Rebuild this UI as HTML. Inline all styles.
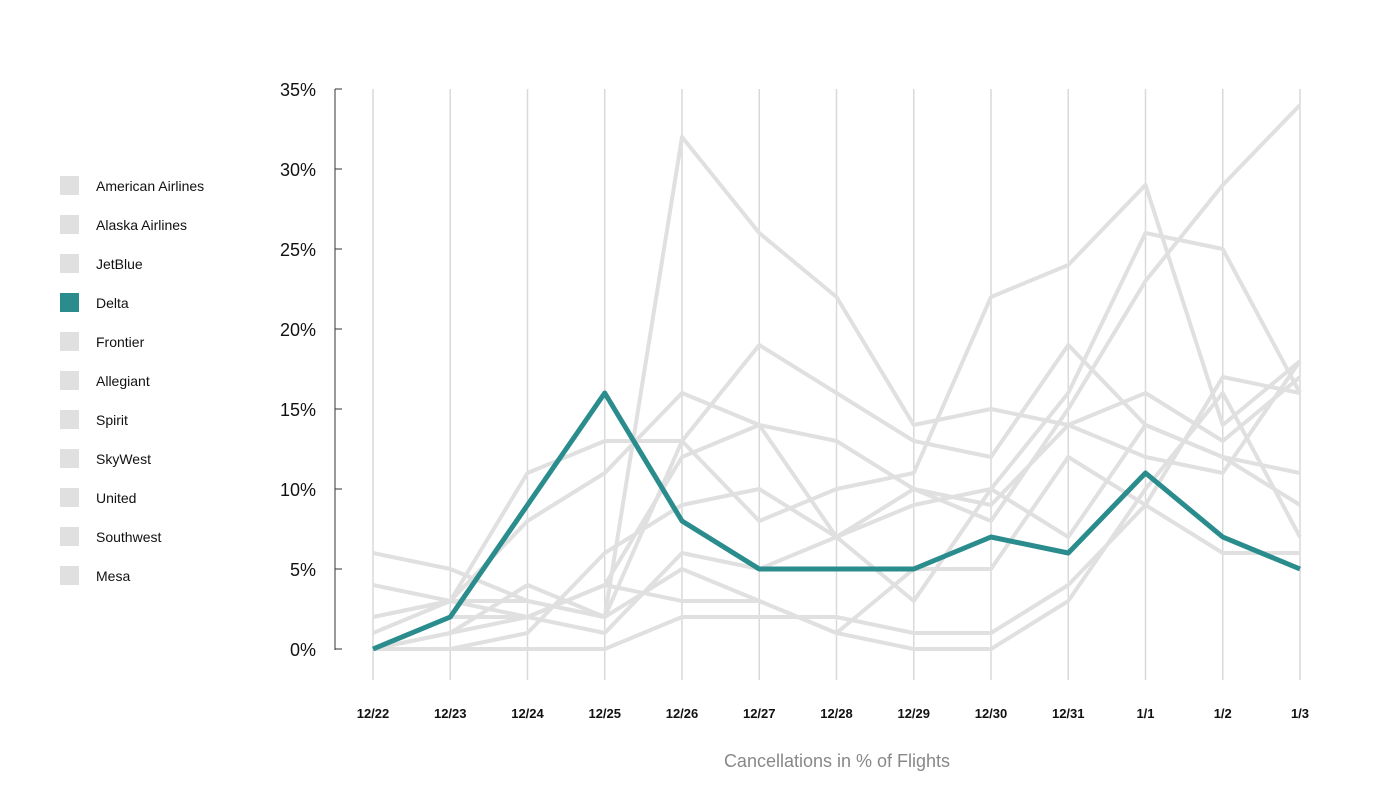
<!DOCTYPE html>
<html><head><meta charset="utf-8"><style>
body{margin:0;background:#fff;width:1400px;height:800px;overflow:hidden;font-family:"Liberation Sans",sans-serif}
</style></head><body>
<svg width="1400" height="800" xmlns="http://www.w3.org/2000/svg" font-family="Liberation Sans, sans-serif">
<g id="grid" stroke="#d9d9d9" stroke-width="1.5"></g>
<line x1="335" y1="89" x2="335" y2="650" stroke="#333" stroke-width="1"/>
<g id="ticks" stroke="#333" stroke-width="1"></g>
<g id="ylab" font-size="18" fill="#111" text-anchor="end"></g>
<g id="xlab" font-size="13" fill="#111" text-anchor="middle" font-weight="bold"></g>
<g id="gray" fill="none" stroke="#e0e0e0" stroke-width="4" stroke-linejoin="round"></g>
<g id="delta" fill="none" stroke="#2a8c8c" stroke-width="5" stroke-linejoin="round"></g>
<g id="legend" font-size="14" fill="#111"></g>
<text x="837" y="767" font-size="18" fill="#888" text-anchor="middle">Cancellations in % of Flights</text>
</svg>
<script>
const ns="http://www.w3.org/2000/svg";
function el(p,t,a,txt){const e=document.createElementNS(ns,t);for(const k in a)e.setAttribute(k,a[k]);if(txt!=null)e.textContent=txt;document.getElementById(p).appendChild(e);}
const X=i=>373+i*77.25, Y=v=>649-v*16;
const labs=["12/22","12/23","12/24","12/25","12/26","12/27","12/28","12/29","12/30","12/31","1/1","1/2","1/3"];
labs.forEach((l,i)=>{el("grid","line",{x1:X(i),y1:89,x2:X(i),y2:680});el("xlab","text",{x:X(i),y:718},l);});
for(let v=0;v<=35;v+=5){el("ticks","line",{x1:335,y1:Y(v),x2:342,y2:Y(v)});el("ylab","text",{x:316,y:Y(v)+7},v+"%");}
const gray=[
[6,5,3,2,32,26,22,14,15,14,12,11,18],
[4,3,3,2,13,19,16,13,12,19,14,12,11],
[2,3,11,13,13,8,10,11,22,24,29,14,18],
[1,3,8,11,16,14,13,10,9,14,16,13,17],
[0,1,2,4,12,14,7,3,10,16,26,25,16],
[0,0,1,6,9,10,7,10,8,15,23,29,34],
[0,1,4,2,5,3,1,5,5,12,9,17,16],
[0,2,2,1,6,5,7,9,10,7,14,12,9],
[0,0,0,0,2,2,2,1,1,4,9,6,6],
[2,3,2,4,3,3,1,0,0,3,10,16,7]];
const pts=a=>a.map((v,i)=>X(i)+","+Y(v)).join(" ");
gray.forEach(g=>el("gray","polyline",{points:pts(g)}));
el("delta","polyline",{points:pts([0,2,9,16,8,5,5,5,7,6,11,7,5])});
["American Airlines","Alaska Airlines","JetBlue","Delta","Frontier","Allegiant","Spirit","SkyWest","United","Southwest","Mesa"].forEach((n,i)=>{
 const y=176+i*39;
 el("legend","rect",{x:60,y:y,width:19,height:19,fill:n=="Delta"?"#2a8c8c":"#e0e0e0"});
 el("legend","text",{x:96,y:y+15},n);
});
</script>
</body></html>
